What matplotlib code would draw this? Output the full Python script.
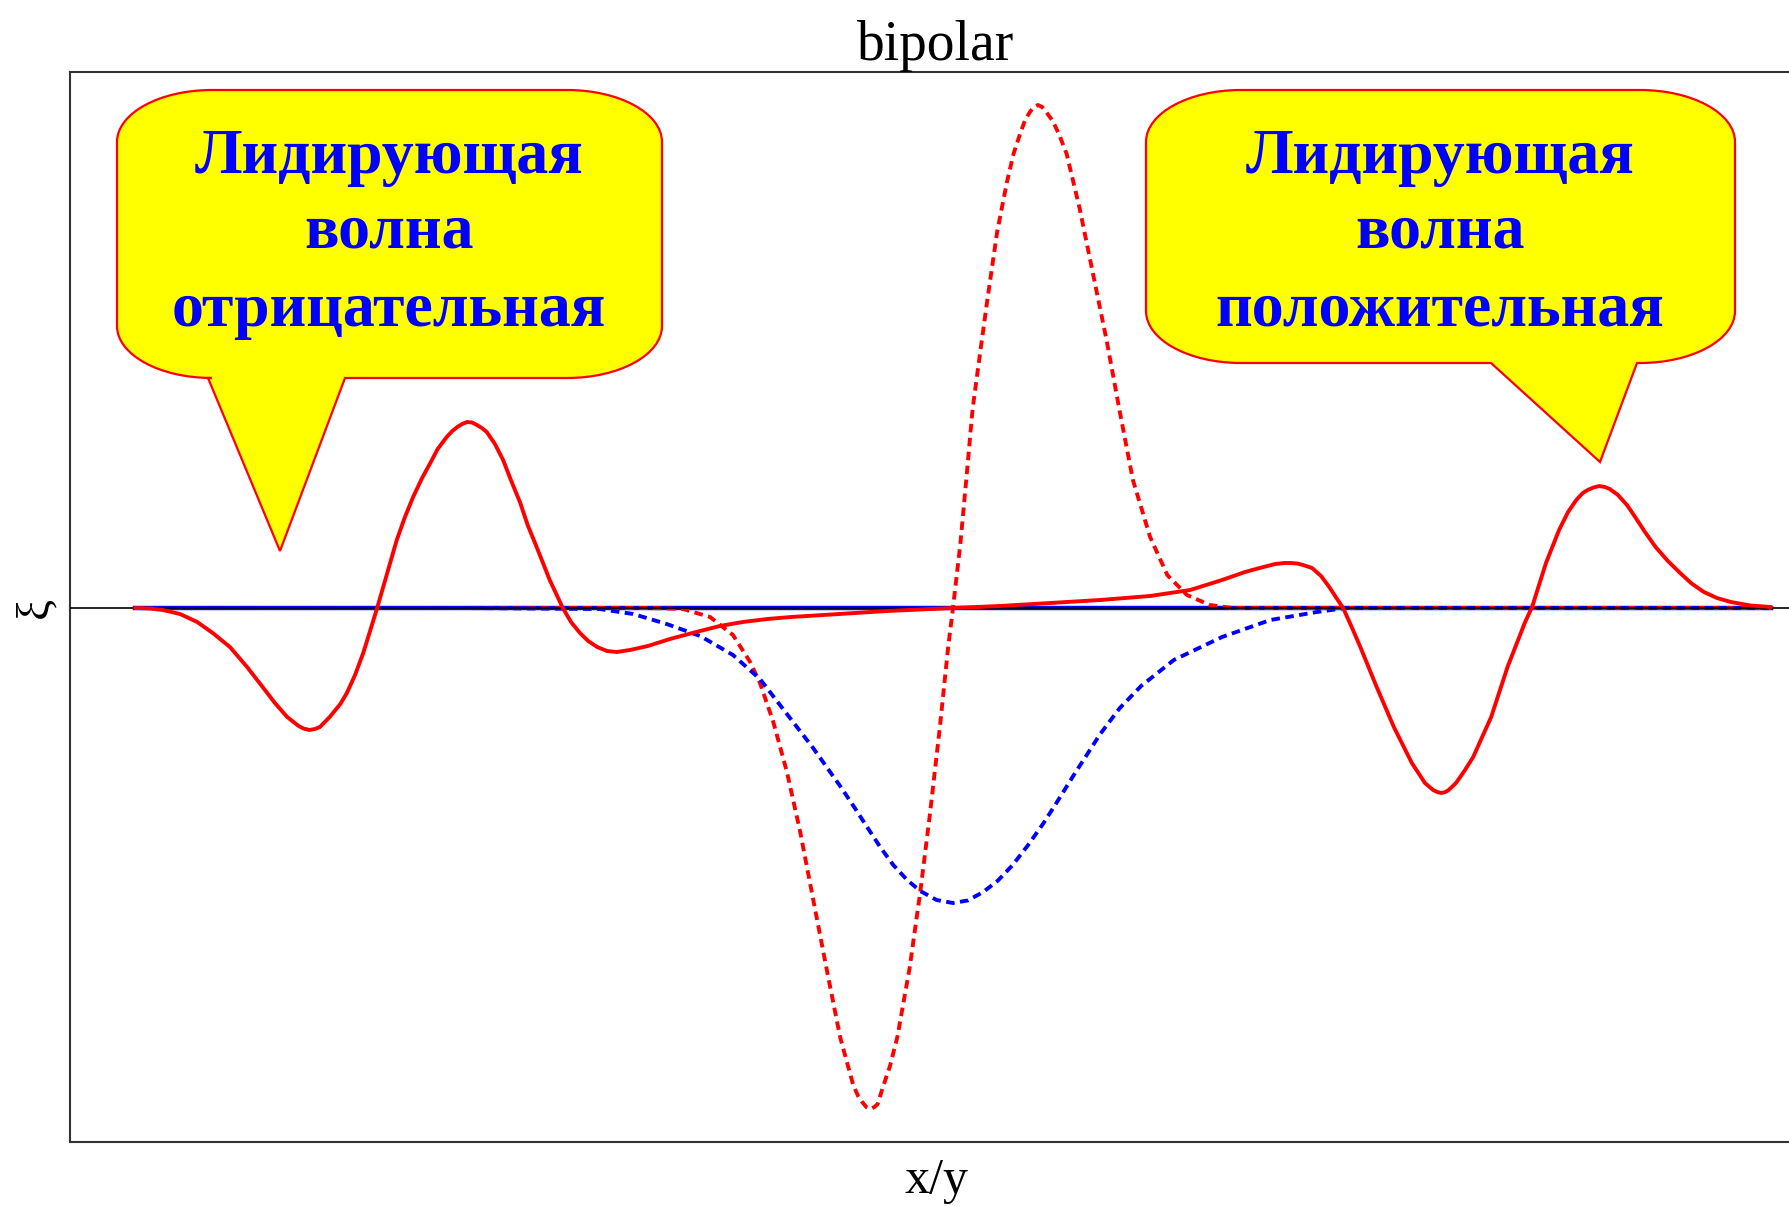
import numpy as np
import matplotlib
matplotlib.use("Agg")
import matplotlib.pyplot as plt
from matplotlib.path import Path
from matplotlib.patches import PathPatch
from matplotlib.transforms import Affine2D

# ---- data -------------------------------------------------------------
# combined wave (solid red)
wave_x = [-10.00, -9.82, -9.66, -9.45, -9.24, -9.05, -8.84, -8.63, -8.44, -8.29,
          -8.14, -8.00, -7.94, -7.87, -7.80, -7.74, -7.62, -7.49, -7.41, -7.31,
          -7.21, -7.13, -7.04, -6.92, -6.80, -6.70, -6.60, -6.49, -6.39, -6.30,
          -6.19, -6.12, -6.06, -6.00, -5.94, -5.88, -5.82, -5.76, -5.70, -5.60,
          -5.50, -5.40, -5.29, -5.20, -5.09, -4.93, -4.77, -4.67, -4.56, -4.46,
          -4.35, -4.23, -4.11, -3.95, -3.73, -3.46, -3.14, -2.85, -2.57, -2.27,
          -1.98, -1.39, -0.81, 0.01, 0.57, 1.19, 1.80, 2.41, 2.90, 3.29,
          3.57, 3.75, 3.94, 4.05, 4.13, 4.21, 4.28, 4.39, 4.50, 4.60,
          4.68, 4.77, 4.88, 4.98, 5.18, 5.39, 5.61, 5.77, 5.87, 5.92,
          5.97, 6.02, 6.06, 6.15, 6.26, 6.36, 6.58, 6.78, 6.99, 7.08,
          7.25, 7.41, 7.52, 7.62, 7.70, 7.76, 7.83, 7.90, 7.97, 8.03,
          8.13, 8.24, 8.34, 8.46, 8.59, 8.74, 8.89, 9.03, 9.18, 9.34,
          9.51, 9.75, 10.00]
wave_y = [0.000, -0.001, -0.004, -0.012, -0.028, -0.050, -0.078, -0.118, -0.158, -0.190,
          -0.218, -0.236, -0.241, -0.244, -0.242, -0.238, -0.218, -0.192, -0.170, -0.134,
          -0.090, -0.048, 0.000, 0.068, 0.136, 0.182, 0.222, 0.260, 0.290, 0.318,
          0.342, 0.354, 0.362, 0.368, 0.372, 0.371, 0.366, 0.360, 0.352, 0.328,
          0.296, 0.254, 0.210, 0.166, 0.122, 0.056, 0.000, -0.028, -0.050, -0.066,
          -0.078, -0.086, -0.088, -0.084, -0.076, -0.062, -0.048, -0.036, -0.028, -0.022,
          -0.018, -0.012, -0.006, 0.000, 0.004, 0.010, 0.016, 0.024, 0.036, 0.056,
          0.072, 0.080, 0.088, 0.090, 0.090, 0.089, 0.086, 0.080, 0.064, 0.042,
          0.022, 0.000, -0.040, -0.078, -0.158, -0.238, -0.310, -0.350, -0.364, -0.368,
          -0.370, -0.368, -0.364, -0.350, -0.324, -0.298, -0.218, -0.118, -0.030, 0.002,
          0.090, 0.156, 0.192, 0.216, 0.230, 0.236, 0.241, 0.244, 0.242, 0.238,
          0.226, 0.206, 0.182, 0.152, 0.122, 0.094, 0.070, 0.049, 0.032, 0.020,
          0.012, 0.005, 0.002]

# bipolar pulse (dotted red)
bipolar_x = [-10.00, -6.00, -4.32, -3.70, -3.30, -2.97, -2.69, -2.48, -2.36, -2.20,
             -2.03, -1.87, -1.71, -1.54, -1.38, -1.22, -1.16, -1.11, -1.06, -1.01,
             -0.96, -0.92, -0.86, -0.77, -0.68, -0.53, -0.40, -0.28, -0.16, -0.06,
             0.00, 0.09, 0.17, 0.24, 0.33, 0.42, 0.54, 0.66, 0.74, 0.82,
             0.88, 0.94, 0.99, 1.04, 1.09, 1.14, 1.22, 1.30, 1.39, 1.55,
             1.71, 1.88, 2.04, 2.20, 2.41, 2.62, 2.86, 3.14, 3.42, 4.50,
             6.00, 10.00]
bipolar_y = [0.000, 0.000, 0.000, 0.000, -0.002, -0.018, -0.054, -0.108, -0.150, -0.226,
             -0.328, -0.446, -0.582, -0.726, -0.858, -0.954, -0.976, -0.988, -0.998, -1.002,
             -0.998, -0.992, -0.960, -0.916, -0.858, -0.720, -0.568, -0.410, -0.238, -0.080,
             0.000, 0.128, 0.270, 0.398, 0.508, 0.616, 0.752, 0.852, 0.908, 0.948,
             0.975, 0.992, 1.002, 1.006, 1.002, 0.992, 0.974, 0.946, 0.908, 0.798,
             0.670, 0.534, 0.392, 0.256, 0.142, 0.066, 0.026, 0.006, 0.000, 0.000,
             0.000, 0.000]

# unipolar pulse (dotted blue)
unipolar_x = [-10.00, -6.00, -4.32, -3.91, -3.50, -3.09, -2.69, -2.36, -2.03, -1.71,
              -1.38, -1.20, -1.05, -0.89, -0.73, -0.56, -0.40, -0.20, 0.00, 0.18,
              0.37, 0.55, 0.73, 0.91, 1.10, 1.28, 1.47, 1.80, 2.04, 2.30,
              2.70, 3.29, 3.88, 4.45, 4.80, 6.00, 10.00]
unipolar_y = [0.000, 0.000, -0.002, -0.012, -0.032, -0.056, -0.094, -0.142, -0.212, -0.280,
              -0.356, -0.400, -0.438, -0.478, -0.514, -0.544, -0.566, -0.584, -0.590, -0.585,
              -0.568, -0.545, -0.514, -0.476, -0.432, -0.386, -0.336, -0.252, -0.200, -0.156,
              -0.104, -0.058, -0.024, -0.008, 0.000, 0.000, 0.000]

# flat reference (solid blue)
flat_x = [-10.0, 10.0]
flat_y = [0.0, 0.0]

title_text = "bipolar"
xlabel_text = "x/y"
ylabel_text = "ξ"
left_note = ["Лидирующая", "волна", "отрицательная"]
right_note = ["Лидирующая", "волна", "положительная"]

# ---- figure -------------------------------------------------------------
W, H = 1789, 1206
fig = plt.figure(figsize=(W / 100, H / 100), dpi=100)
fig.patch.set_facecolor("white")

ax_left, ax_right, ax_top, ax_bottom = 70, 1802, 72, 1142
ax = fig.add_axes([ax_left / W, 1 - ax_bottom / H,
                   (ax_right - ax_left) / W, (ax_bottom - ax_top) / H])

ax.set_xlim(-10.795, 10.38)
ax.set_ylim(-1.068, 1.072)

red = "#ff0000"
blue = "#0000ff"
lw = 2.8
dots = (0, (2.2, 1.4))

ax.plot(flat_x, flat_y, color=blue, lw=3.2, zorder=2)
ax.plot(bipolar_x, bipolar_y, color=red, lw=lw, ls=dots, zorder=3)
ax.plot(unipolar_x, unipolar_y, color=blue, lw=lw, ls=dots, zorder=3)
ax.axhline(0, color="black", lw=1.2, zorder=4)
ax.plot(wave_x, wave_y, color=red, lw=lw, zorder=5,
        solid_joinstyle="round", solid_capstyle="round")

ax.set_xticks([])
ax.set_yticks([])
for s in ax.spines.values():
    s.set_color("#333333")
    s.set_linewidth(1.5)

serif = "Liberation Serif"
ax.set_title(title_text, fontsize=40, family=serif, pad=5)
ax.set_xlabel(xlabel_text, fontsize=36, family=serif, labelpad=11)
ax.set_ylabel(ylabel_text, fontsize=34, family=serif, labelpad=9)

# ---- speech bubbles ----------------------------------------------------
px = Affine2D().scale(1 / W, -1 / H).translate(0, 1) + fig.transFigure
K = 0.5523


def bubble(L, T, R, B, p1, p2, tip, rx=95, ry=52):
    tx, ty = tip
    verts = [
        (L + rx, T), (R - rx, T),
        (R - rx + K * rx, T), (R, T + ry - K * ry), (R, T + ry),
        (R, B - ry),
        (R, B - ry + K * ry), (R - rx + K * rx, B), (R - rx, B),
        (p2, B), (tx, ty), (p1, B),
        (L + rx, B),
        (L + rx - K * rx, B), (L, B - ry + K * ry), (L, B - ry),
        (L, T + ry),
        (L, T + ry - K * ry), (L + rx - K * rx, T), (L + rx, T),
        (L + rx, T),
    ]
    codes = [Path.MOVETO, Path.LINETO,
             Path.CURVE4, Path.CURVE4, Path.CURVE4,
             Path.LINETO,
             Path.CURVE4, Path.CURVE4, Path.CURVE4,
             Path.LINETO, Path.LINETO, Path.LINETO,
             Path.LINETO,
             Path.CURVE4, Path.CURVE4, Path.CURVE4,
             Path.LINETO,
             Path.CURVE4, Path.CURVE4, Path.CURVE4,
             Path.CLOSEPOLY]
    patch = PathPatch(Path(verts, codes), facecolor="#ffff00", edgecolor=red,
                      lw=1.6, transform=px, zorder=10)
    fig.add_artist(patch)


def note(cx, lines, baselines):
    for txt, yb in zip(lines, baselines):
        fig.text(cx, yb, txt, transform=px, ha="center", va="baseline",
                 fontsize=46, family=serif, weight="bold", color=blue, zorder=11)


bubble(117, 90, 662, 378, 208, 345, (280, 551))
note(389, left_note, [173, 248, 326])

bubble(1146, 90, 1735, 363, 1491, 1637, (1600, 462))
note(1440, right_note, [173, 248, 326])

fig.savefig("out.png", dpi=100, facecolor="white")
